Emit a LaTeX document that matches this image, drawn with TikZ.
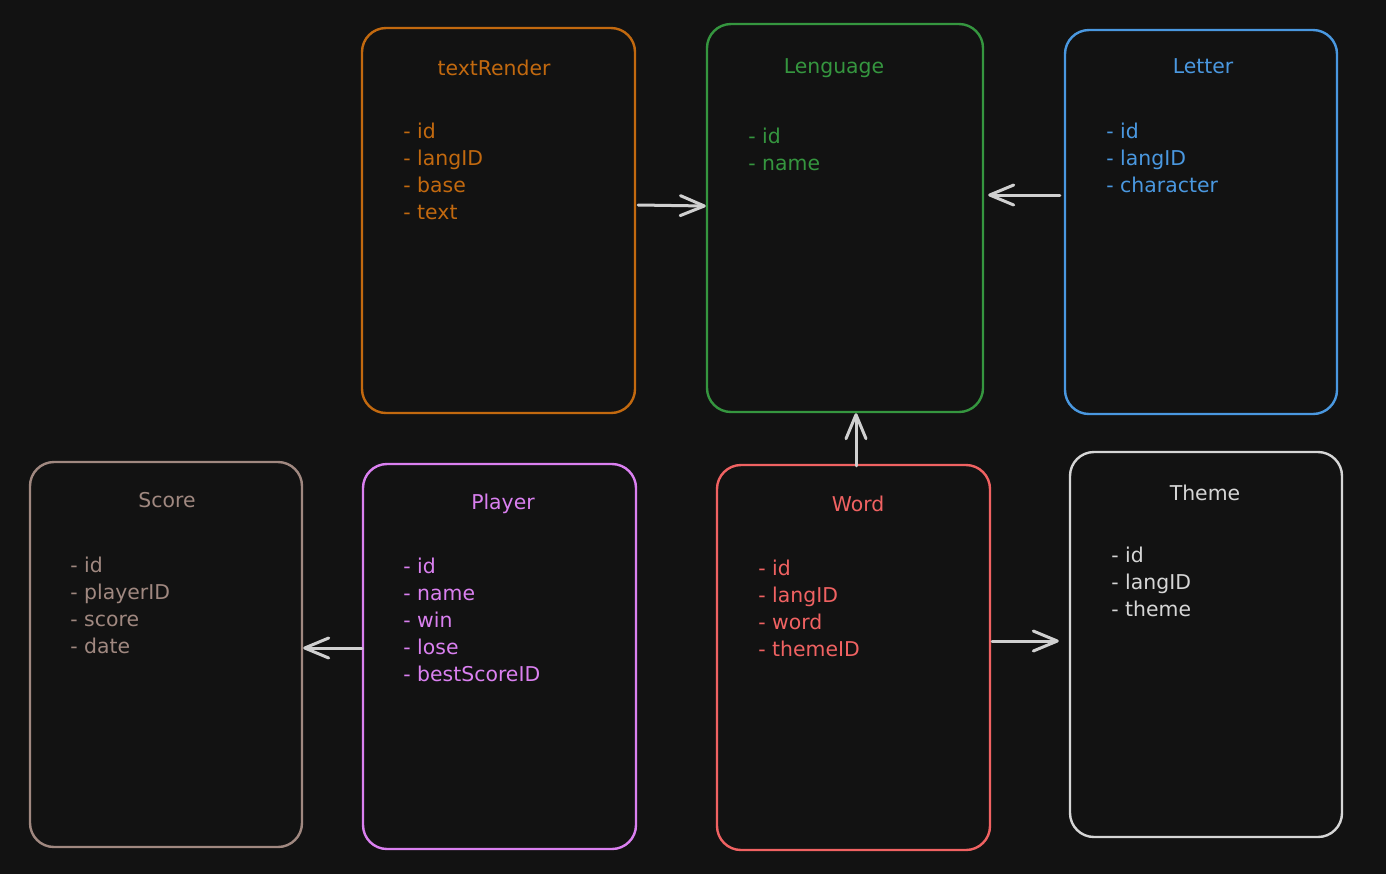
\documentclass[tikz,border=0pt]{standalone}
\usepackage{fontspec}
\setmainfont{DejaVu Sans}
\usepackage{tikz}
\usetikzlibrary{arrows.meta,positioning}
\definecolor{bgdark}{HTML}{121212}
\definecolor{renderorange}{HTML}{C2690F}
\definecolor{langgreen}{HTML}{35963F}
\definecolor{letterblue}{HTML}{4A98E0}
\definecolor{scorebrown}{HTML}{A08880}
\definecolor{playerviolet}{HTML}{DA80F0}
\definecolor{wordred}{HTML}{F06262}
\definecolor{themegray}{HTML}{D6D6D6}
\definecolor{linkgray}{HTML}{D0D0D0}
\tikzset{
    entity/.style={draw=#1, line width=1.2pt, rounded corners=12pt, inner sep=0pt},
    title/.style={text=#1, anchor=base, inner sep=0pt, font=\fontsize{10.2}{13.5}\selectfont},
    fields/.style={text=#1, anchor=north west, align=left, inner sep=0pt, font=\fontsize{10.2}{13.5}\selectfont},
    link/.style={draw=linkgray, line width=1.5pt, line cap=round, -{Straight Barb[length=12pt,width=10pt,round]}}
}

\begin{document}
\begin{tikzpicture}[x=0.5pt, y=-0.5pt]
% background
\fill[bgdark] (0,0) rectangle (1386,874);
\useasboundingbox (0,0) rectangle (1386,874);
% Top row tables
\node[entity=renderorange, minimum width=136.5pt, minimum height=192.5pt] (render) at (498.5,220.5) {};
\node[title=renderorange] (rendertitle) at (494,75) {textRender};
\node[fields=renderorange] (renderfields) at (403,123) {- id\\- langID\\- base\\- text};

\node[entity=langgreen, minimum width=138pt, minimum height=194pt] (lang) at (845,218) {};
\node[title=langgreen] (langtitle) at (834,73) {Lenguage};
\node[fields=langgreen] (langfields) at (748,128) {- id\\- name};

\node[entity=letterblue, minimum width=136pt, minimum height=192pt] (letter) at (1201,222) {};
\node[title=letterblue] (lettertitle) at (1203,73) {Letter};
\node[fields=letterblue] (letterfields) at (1106,123) {- id\\- langID\\- character};

% Bottom row tables
\node[entity=scorebrown, minimum width=136pt, minimum height=192.5pt] (score) at (166,654.5) {};
\node[title=scorebrown] (scoretitle) at (167,507) {Score};
\node[fields=scorebrown] (scorefields) at (70,557) {- id\\- playerID\\- score\\- date};

\node[entity=playerviolet, minimum width=136.5pt, minimum height=192.5pt] (player) at (499.5,656.5) {};
\node[title=playerviolet] (playertitle) at (503,509) {Player};
\node[fields=playerviolet] (playerfields) at (403,558) {- id\\- name\\- win\\- lose\\- bestScoreID};

\node[entity=wordred, minimum width=136.5pt, minimum height=192.5pt] (word) at (853.5,657.5) {};
\node[title=wordred] (wordtitle) at (858,511) {Word};
\node[fields=wordred] (wordfields) at (758,560) {- id\\- langID\\- word\\- themeID};

\node[entity=themegray, minimum width=136pt, minimum height=192.5pt] (theme) at (1206,644.5) {};
\node[title=themegray] (themetitle) at (1205,500) {Theme};
\node[fields=themegray] (themefields) at (1111,547) {- id\\- langID\\- theme};

% relations
\draw[link] ([xshift=1pt,yshift=7.75pt]render.east) -- ([yshift=6pt]lang.west);
\draw[link, shorten >=2pt] ([xshift=-2pt,yshift=13.5pt]letter.west) -- ([yshift=11.5pt]lang.east);
\draw[link] ([xshift=1.25pt,yshift=-1pt]word.north) -- ([xshift=5.5pt]lang.south);
\draw[link] ([yshift=4.25pt]player.west) -- ([yshift=3.25pt]score.east);
\draw[link, shorten >=5pt] ([xshift=0.5pt,yshift=8.25pt]word.east) -- ([yshift=1.75pt]theme.west);
\end{tikzpicture}
\end{document}
